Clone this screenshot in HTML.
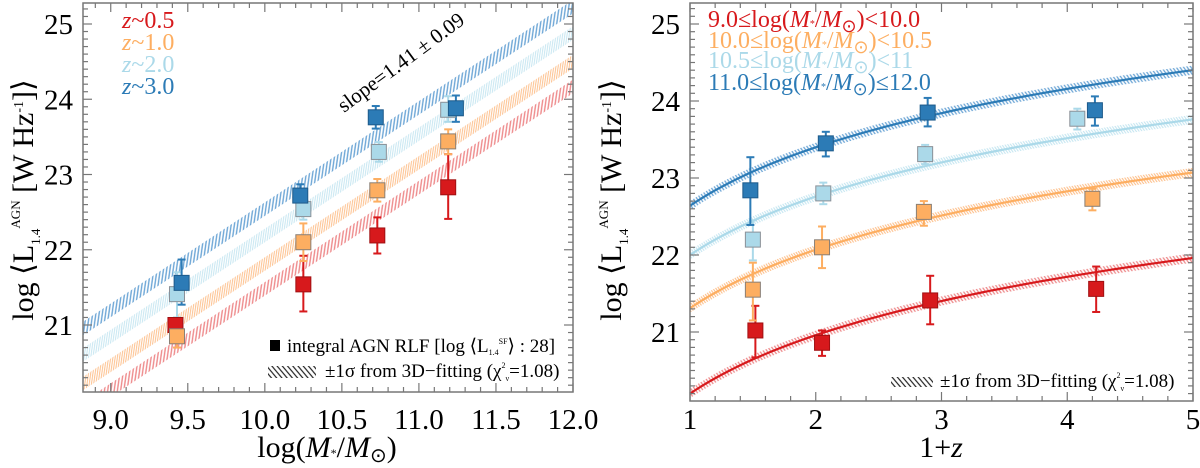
<!DOCTYPE html>
<html><head><meta charset="utf-8"><style>
html,body{margin:0;padding:0;background:#fff;}
svg{display:block;font-family:"Liberation Serif",serif;}
</style></head><body>
<svg id="chart" width="1200" height="468" viewBox="0 0 1200 468" xmlns="http://www.w3.org/2000/svg">
<defs>
<pattern id="h0" width="3.2" height="8" patternUnits="userSpaceOnUse" patternTransform="rotate(8)"><line x1="1" y1="0" x2="1" y2="8" stroke="#ee8a8b" stroke-width="1.4"/></pattern>
<pattern id="h1" width="2.2" height="8" patternUnits="userSpaceOnUse" patternTransform="rotate(8)"><line x1="1" y1="0" x2="1" y2="8" stroke="#fdc08c" stroke-width="1"/></pattern>
<pattern id="h2" width="2.2" height="8" patternUnits="userSpaceOnUse" patternTransform="rotate(8)"><line x1="1" y1="0" x2="1" y2="8" stroke="#c6e6f1" stroke-width="1"/></pattern>
<pattern id="h3" width="3.2" height="8" patternUnits="userSpaceOnUse" patternTransform="rotate(8)"><line x1="1" y1="0" x2="1" y2="8" stroke="#6da6d6" stroke-width="1.4"/></pattern>
<pattern id="r0" width="3" height="8" patternUnits="userSpaceOnUse" patternTransform="rotate(-35)"><line x1="1" y1="0" x2="1" y2="8" stroke="#ee8a8b" stroke-width="1.3"/></pattern>
<pattern id="r1" width="2.4" height="8" patternUnits="userSpaceOnUse" patternTransform="rotate(-35)"><line x1="1" y1="0" x2="1" y2="8" stroke="#fdc08c" stroke-width="1.1"/></pattern>
<pattern id="r2" width="2.4" height="8" patternUnits="userSpaceOnUse" patternTransform="rotate(-35)"><line x1="1" y1="0" x2="1" y2="8" stroke="#c6e6f1" stroke-width="1.1"/></pattern>
<pattern id="r3" width="3" height="8" patternUnits="userSpaceOnUse" patternTransform="rotate(-35)"><line x1="1" y1="0" x2="1" y2="8" stroke="#6da6d6" stroke-width="1.3"/></pattern>
<pattern id="hk" width="4" height="8" patternUnits="userSpaceOnUse" patternTransform="rotate(-40)"><line x1="1" y1="0" x2="1" y2="8" stroke="#222" stroke-width="1.2"/></pattern>
<clipPath id="clipL"><rect x="83" y="3" width="490" height="389"/></clipPath>
<clipPath id="clipR"><rect x="690" y="3" width="503" height="398"/></clipPath>
</defs>
<g id="left"></g>
<g id="right"></g>

<g font-size="24">
<text x="122" y="28" fill="#d7191c"><tspan font-style="italic">z</tspan>~0.5</text>
<text x="122" y="50" fill="#fdae61"><tspan font-style="italic">z</tspan>~1.0</text>
<text x="122" y="72" fill="#abd9e9"><tspan font-style="italic">z</tspan>~2.0</text>
<text x="122" y="94" fill="#2c7bb6"><tspan font-style="italic">z</tspan>~3.0</text>
</g>
<text x="0" y="0" font-size="21" transform="translate(344,113) rotate(-36.5)">slope=1.41 ± 0.09</text>
<rect x="270" y="340" width="10" height="11" fill="#000"/>
<text x="287" y="352" font-size="19">integral AGN RLF [log ⟨L<tspan font-size="8" dy="3">1.4</tspan><tspan font-size="8" dy="-11">SF</tspan><tspan dy="8">⟩ : 28]</tspan></text>
<rect x="268" y="366" width="48" height="12" fill="url(#hk)"/>
<text x="325" y="377" font-size="19">±1σ from 3D−fitting (χ<tspan font-size="8" dy="-9">2</tspan><tspan font-size="8" dy="13">ν</tspan><tspan dy="-4">=1.08)</tspan></text>
<text x="327" y="457" font-size="30" text-anchor="middle">log(<tspan font-style="italic">M</tspan><tspan font-size="12">*</tspan>/<tspan font-style="italic">M</tspan><tspan font-size="20" dy="5">⊙</tspan><tspan dy="-5">)</tspan></text>
<text transform="translate(33,200) rotate(-90)" font-size="30" text-anchor="middle">log ⟨L<tspan font-size="13" dy="7">1.4</tspan><tspan font-size="13" dy="-20">AGN</tspan><tspan dy="13"> [W Hz</tspan><tspan font-size="14" dy="-10">-1</tspan><tspan dy="10">]⟩</tspan></text>

<g font-size="24">
<text x="708" y="27" fill="#d7191c">9.0≤log(<tspan font-style="italic">M</tspan><tspan font-size="10">*</tspan>/<tspan font-style="italic">M</tspan><tspan font-size="18" dy="5">⊙</tspan><tspan dy="-5">)&lt;10.0</tspan></text>
<text x="708" y="48" fill="#fdae61">10.0≤log(<tspan font-style="italic">M</tspan><tspan font-size="10">*</tspan>/<tspan font-style="italic">M</tspan><tspan font-size="18" dy="5">⊙</tspan><tspan dy="-5">)&lt;10.5</tspan></text>
<text x="708" y="68" fill="#abd9e9">10.5≤log(<tspan font-style="italic">M</tspan><tspan font-size="10">*</tspan>/<tspan font-style="italic">M</tspan><tspan font-size="18" dy="5">⊙</tspan><tspan dy="-5">)&lt;11</tspan></text>
<text x="708" y="90" fill="#2c7bb6">11.0≤log(<tspan font-style="italic">M</tspan><tspan font-size="10">*</tspan>/<tspan font-style="italic">M</tspan><tspan font-size="18" dy="5">⊙</tspan><tspan dy="-5">)≤12.0</tspan></text>
</g>
<rect x="891" y="377" width="42" height="10" fill="url(#hk)"/>
<text x="940" y="387" font-size="19">±1σ from 3D−fitting (χ<tspan font-size="8" dy="-9">2</tspan><tspan font-size="8" dy="13">ν</tspan><tspan dy="-4">=1.08)</tspan></text>
<text x="941" y="457" font-size="30" text-anchor="middle">1+<tspan font-style="italic">z</tspan></text>
<text transform="translate(621,200) rotate(-90)" font-size="30" text-anchor="middle">log ⟨L<tspan font-size="13" dy="7">1.4</tspan><tspan font-size="13" dy="-20">AGN</tspan><tspan dy="13"> [W Hz</tspan><tspan font-size="14" dy="-10">-1</tspan><tspan dy="10">]⟩</tspan></text>
</svg>
<script>
const colors = ["#d7191c","#fdae61","#abd9e9","#2c7bb6"];
const borders = ["#a01012","#8a7f75","#8a9097","#1d5a8a"];
const massX = [[9.42,10.25,10.73,11.19],[9.43,10.25,10.73,11.19],[9.43,10.25,10.74,11.19],[9.46,10.23,10.72,11.24]];
const massY = [[21.0,21.54,22.19,22.83],[20.85,22.1,22.79,23.44],[21.41,22.54,23.3,23.86],[21.56,22.72,23.76,23.88]];
const massHi = [[21.05,21.92,22.43,23.27],[21.1,22.35,22.94,23.6],[21.7,22.65,23.43,24.04],[21.87,22.87,23.91,24.05]];
const massLo = [[20.95,21.18,21.95,22.41],[20.7,21.85,22.64,23.27],[21.1,22.4,23.17,23.7],[21.27,22.58,23.61,23.7]];
const bandAt12 = [24.17,24.5,24.88,25.23];
const bandSlope = 1.345;
const bandHalf = 0.09;
const zX = [[1.52,2.05,2.91,4.23],[1.5,2.05,2.86,4.2],[1.5,2.06,2.87,4.08],[1.48,2.08,2.89,4.22]];
const zY = [[21.02,20.86,21.41,21.56],[21.55,22.1,22.56,22.73],[22.2,22.8,23.31,23.77],[22.84,23.45,23.85,23.88]];
const zHi = [[21.34,21.02,21.73,21.85],[21.9,22.37,22.7,22.86],[22.45,22.94,23.43,23.9],[23.27,23.6,24.04,24.06]];
const zLo = [[20.67,20.69,21.1,21.26],[21.15,21.83,22.38,22.58],[21.93,22.66,23.18,23.63],[22.39,23.28,23.67,23.68]];
const curveBase = [20.2,21.31,22.0,22.64];
const curveSlope = 2.52;
const curveHalf = 0.06;
const xTicksL = ["9.0","9.5","10.0","10.5","11.0","11.5","12.0"];
const yTicks = ["21","22","23","24","25"];
const xTicksR = ["1","2","3","4","5"];

const NS="http://www.w3.org/2000/svg";
function mk(tag, attrs, parent){const e=document.createElementNS(NS,tag);for(const k in attrs)e.setAttribute(k,attrs[k]);parent.appendChild(e);return e;}

const L={x0:83,x1:573,xmin:8.82,xmax:12.0,y0:3,y1:392};
const R={x0:690,x1:1193,xmin:1,xmax:5,y0:3,y1:401};
const xL=v=>L.x0+(v-L.xmin)/(L.xmax-L.xmin)*(L.x1-L.x0);
const yL=v=>24+(25-v)*75.25;
const xR=v=>R.x0+(v-R.xmin)/(R.xmax-R.xmin)*(R.x1-R.x0);
const yR=v=>24+(25-v)*77;
const yLmin=25-(L.y1-24)/75.25, yLmax=25+(24-L.y0)/75.25;
const yRmin=25-(R.y1-24)/77, yRmax=25+(24-R.y0)/77;

function frame(g,P,xs,ys,xMinorStep,xMajorStep,xlabels,ymin,ymax,name){
  const f=mk('rect',{x:P.x0,y:P.y0,width:P.x1-P.x0,height:P.y1-P.y0,fill:'none',stroke:'#777','stroke-width':1.5},g);
  
  
  const n=Math.round((P.xmax-P.xmin)/xMinorStep)+2;
  const start=Math.ceil(P.xmin/xMinorStep-1e-6)*xMinorStep;
  for(let i=0;i<n;i++){const v=start+i*xMinorStep; if(v>P.xmax+1e-6)break;
    const maj=Math.abs(v/xMajorStep-Math.round(v/xMajorStep))<1e-6; const len=maj?9:5; const px=xs(v);
    const t1=mk('line',{x1:px,x2:px,y1:P.y1,y2:P.y1-len,stroke:'#777','stroke-width':1.2},g);
    
    
    const t2=mk('line',{x1:px,x2:px,y1:P.y0,y2:P.y0+len,stroke:'#777','stroke-width':1.2},g);
    
    }
  xlabels.forEach(s=>{const v=parseFloat(s);
    const t=mk('text',{x:xs(v),y:429,'font-size':29,'text-anchor':'middle'},g); t.textContent=s;
    
    });
  for(let k=Math.ceil(ymin*10);k<=Math.floor(ymax*10);k++){const v=k/10; const maj=k%10===0; const len=maj?9:5; const py=ys(v);
    const t1=mk('line',{x1:P.x0,x2:P.x0+len,y1:py,y2:py,stroke:'#777','stroke-width':1.2},g);
    
    
    const t2=mk('line',{x1:P.x1,x2:P.x1-len,y1:py,y2:py,stroke:'#777','stroke-width':1.2},g);
    
    }
  yTicks.forEach(s=>{const v=parseFloat(s);
    const t=mk('text',{x:P.x0-10,y:ys(v)+10,'font-size':29,'text-anchor':'end'},g); t.textContent=s;
    
    });
}

function points(g,xs,ys,X,Y,Hi,Lo,prefix){
  for(let s=0;s<4;s++){for(let i=0;i<X[s].length;i++){
    const px=xs(X[s][i]);
    const e=mk('line',{x1:px,x2:px,y1:ys(Hi[s][i]),y2:ys(Lo[s][i]),stroke:colors[s],'stroke-width':2},g);
    
    
    [Hi[s][i],Lo[s][i]].forEach(v=>{const c=mk('line',{x1:px-4,x2:px+4,y1:ys(v),y2:ys(v),stroke:colors[s],'stroke-width':2},g);
      
      });
  }}
  for(let s=0;s<4;s++){for(let i=0;i<X[s].length;i++){
    const r=mk('rect',{x:xs(X[s][i])-7.5,y:ys(Y[s][i])-7.5,width:15,height:15,fill:colors[s],stroke:borders[s],'stroke-width':1},g);
    
    
  }}
}

const gl=document.getElementById('left');
const bl=mk('g',{'clip-path':'url(#clipL)'},gl);


for(let s=0;s<4;s++){
  const f=v=>bandAt12[s]-bandSlope*(12-v);
  const xa=L.xmin,xb=L.xmax;
  const pts=[[xa,f(xa)+bandHalf],[xb,f(xb)+bandHalf],[xb,f(xb)-bandHalf],[xa,f(xa)-bandHalf]].map(p=>xL(p[0])+','+yL(p[1])).join(' ');
  const p=mk('polygon',{points:pts,fill:'url(#h'+s+')'},bl);
  
  
}
points(gl,xL,yL,massX,massY,massHi,massLo,'mass');
frame(gl,L,xL,yL,0.1,0.5,xTicksL,yLmin,yLmax,'left');

const gr=document.getElementById('right');
const br=mk('g',{'clip-path':'url(#clipR)'},gr);


for(let s=0;s<4;s++){
  const f=v=>curveBase[s]+curveSlope*Math.log10(v);
  const up=[],dn=[],mid=[];
  for(let k=0;k<=80;k++){const v=1+4*k/80; up.push(xR(v)+','+yR(f(v)+curveHalf)); dn.push(xR(v)+','+yR(f(v)-curveHalf)); mid.push(xR(v)+','+yR(f(v)));}
  const p=mk('polygon',{points:up.concat(dn.reverse()).join(' '),fill:'url(#r'+s+')'},br);
  
  
  const l=mk('polyline',{points:mid.join(' '),fill:'none',stroke:colors[s],'stroke-width':2.2},br);
  
  
}
points(gr,xR,yR,zX,zY,zHi,zLo,'redshift');
frame(gr,R,xR,yR,0.2,1,xTicksR,yRmin,yRmax,'right');
</script>
</body></html>
